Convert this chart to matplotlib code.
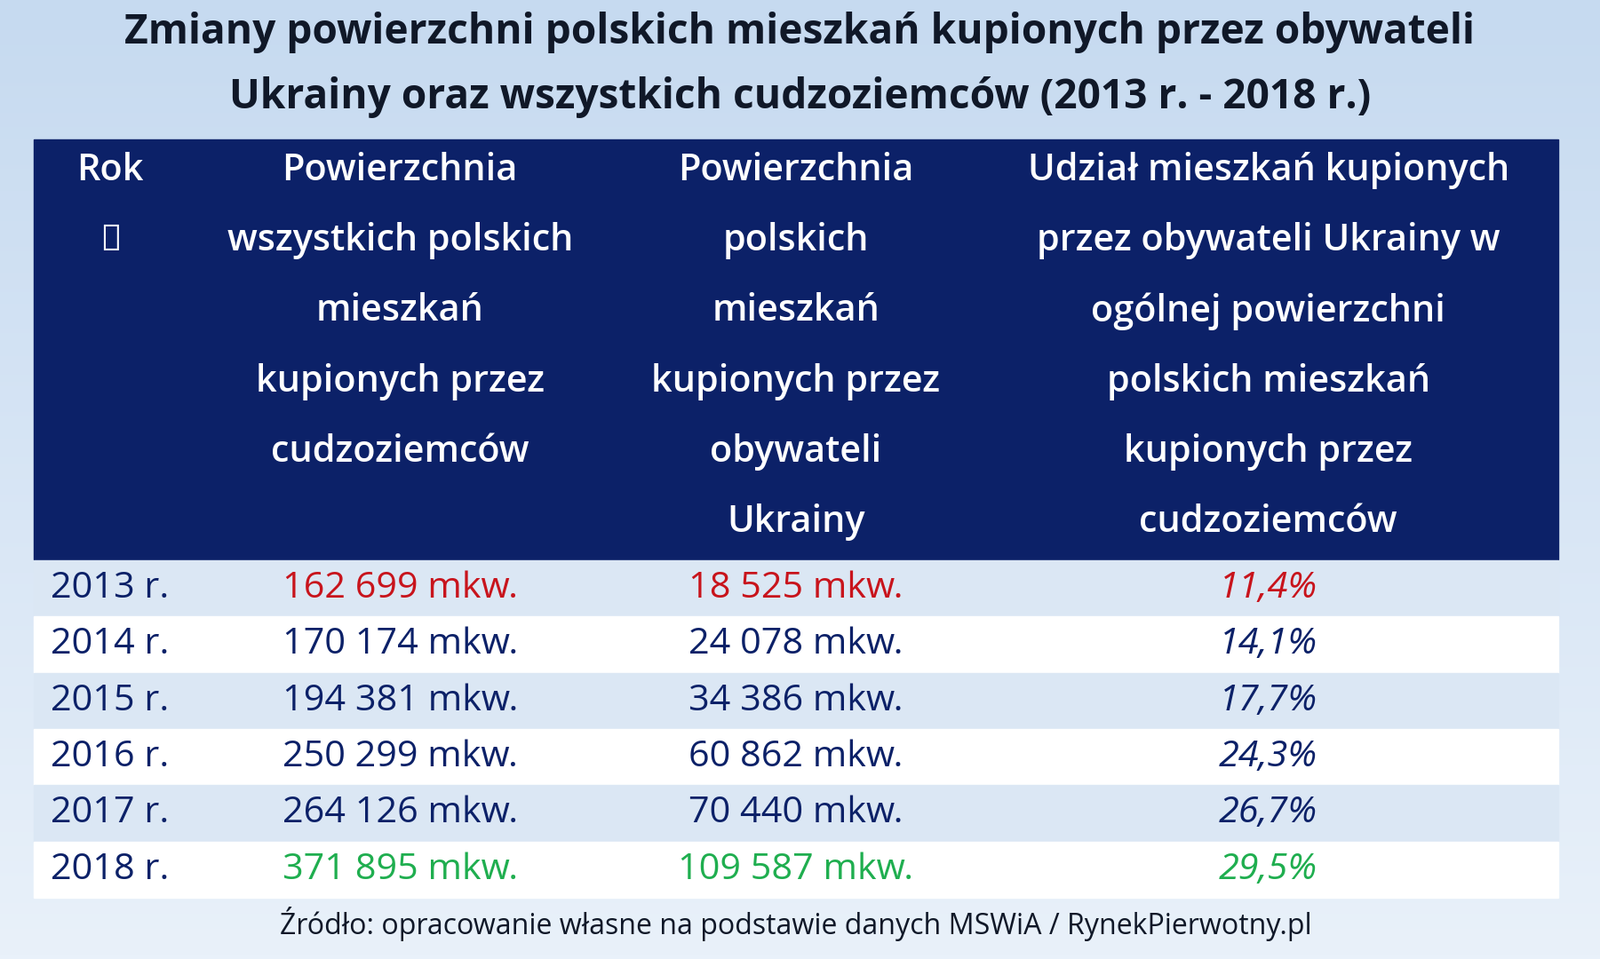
import matplotlib
matplotlib.use("Agg")
import matplotlib.pyplot as plt
import numpy as np
from matplotlib.patches import Rectangle
from matplotlib.colors import LinearSegmentedColormap

title = ["Zmiany powierzchni polskich mieszkań kupionych przez obywateli",
         "Ukrainy oraz wszystkich cudzoziemców (2013 r. - 2018 r.)"]
headers = [["Rok", "↓"],
           ["Powierzchnia", "wszystkich polskich", "mieszkań", "kupionych przez", "cudzoziemców"],
           ["Powierzchnia", "polskich", "mieszkań", "kupionych przez", "obywateli", "Ukrainy"],
           ["Udział mieszkań kupionych", "przez obywateli Ukrainy w", "ogólnej powierzchni",
            "polskich mieszkań", "kupionych przez", "cudzoziemców"]]
years = ["2013 r.", "2014 r.", "2015 r.", "2016 r.", "2017 r.", "2018 r."]
total_area = ["162 699 mkw.", "170 174 mkw.", "194 381 mkw.", "250 299 mkw.", "264 126 mkw.", "371 895 mkw."]
ukr_area = ["18 525 mkw.", "24 078 mkw.", "34 386 mkw.", "60 862 mkw.", "70 440 mkw.", "109 587 mkw."]
share = ["11,4%", "14,1%", "17,7%", "24,3%", "26,7%", "29,5%"]
source = "Źródło: opracowanie własne na podstawie danych MSWiA / RynekPierwotny.pl"

W, H = 1568, 940
fig = plt.figure(figsize=(18.01, 10.80), dpi=100)
ax = fig.add_axes([0, 0, 1, 1])
ax.set_xlim(0, W); ax.set_ylim(H, 0); ax.axis("off")
s = 1801 / 1568 * 0.72
FONT = "Open Sans"

grad = np.linspace(0, 1, 256)[:, None]
cm = LinearSegmentedColormap.from_list("bg", ["#c6daf0", "#e9f1fa"])
ax.imshow(grad, cmap=cm, extent=[0, W, H, 0], aspect="auto", zorder=0)

navy = "#0c2168"
for j, t in enumerate(title):
    ax.text(W / 2, 32 + 63 * j, t, ha="center", va="center", fontsize=40 * s, fontweight="bold",
            color="#101828", family=FONT)
ax.add_patch(Rectangle((33, 137), 1494, 411, color=navy, zorder=1))
cx = [108, 392, 780, 1243]
for x, h in zip(cx, headers):
    for j, line in enumerate(h):
        ax.text(x, 167 + 69 * j, line, ha="center", va="center", fontsize=36 * s, color="white",
                family=FONT, fontweight="semibold", zorder=2)

row_top = 549
rh = 55.2
red, green = "#c8141c", "#1fae4f"
for i in range(len(years)):
    y0 = row_top + i * rh
    ax.add_patch(Rectangle((33, y0), 1494, rh, color="#dbe7f4" if i % 2 == 0 else "white", zorder=1))
    yc = y0 + rh / 2
    c = red if i == 0 else (green if i == len(years) - 1 else navy)
    kw = dict(ha="center", va="center", fontsize=36 * s, family=FONT, fontweight="medium", zorder=2)
    ax.text(cx[0], yc, years[i], color=navy, **kw)
    ax.text(cx[1], yc, total_area[i], color=c, **kw)
    ax.text(cx[2], yc, ukr_area[i], color=c, **kw)
    ax.text(cx[3], yc, share[i], color=c, style="italic", **kw)

ax.text(780, 906, source, ha="center", va="center", fontsize=28 * s, color="#101828", family=FONT,
        fontweight="medium")
fig.savefig("out.png", dpi=100)
